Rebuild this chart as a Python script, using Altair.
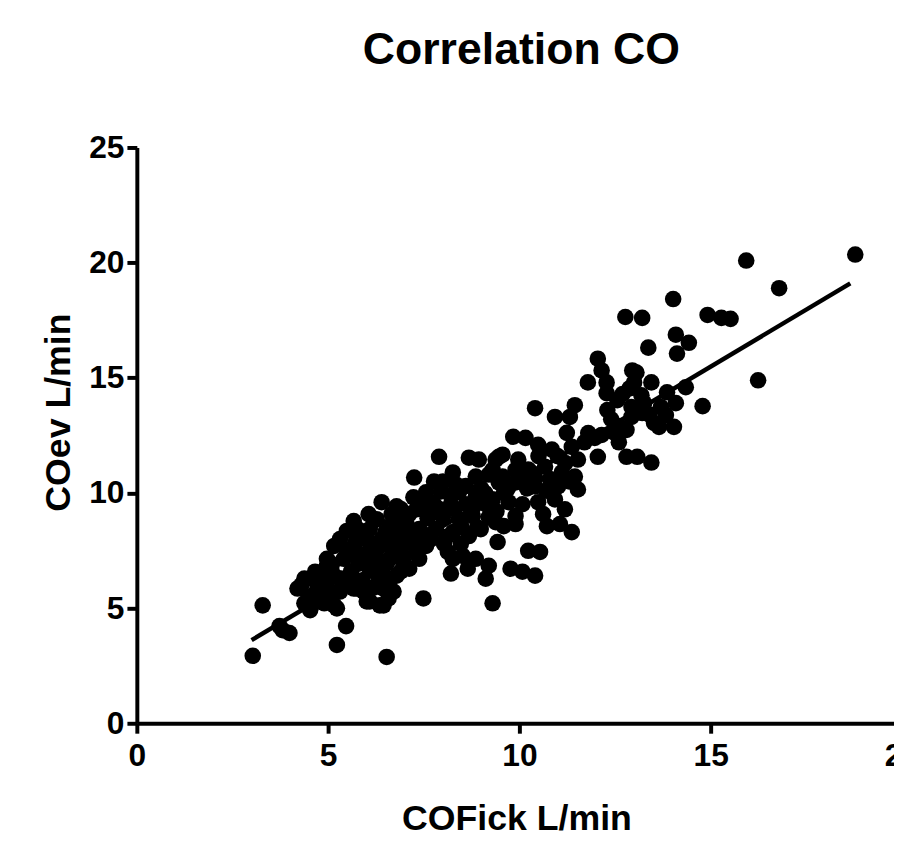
import altair as alt
import pandas as pd

# COFick (x) and COev (y) values, L/min
co_fick = [
    3.03, 3.29, 3.73, 3.99, 3.81, 4.38, 4.38, 4.66, 5.10, 4.97, 4.90, 5.23, 5.67, 5.93, 6.09, 6.45,
    6.09, 6.45, 5.41, 5.23, 5.47, 6.53, 6.40, 6.06, 5.67, 5.49, 5.31, 5.16, 4.97, 5.83, 6.09, 5.62,
    5.80, 6.01, 6.22, 5.49, 5.75, 6.27, 6.53, 6.66, 6.40, 4.84, 4.66, 4.20, 4.53, 4.97, 5.16, 5.31,
    5.67, 6.01, 6.35, 6.58,
    7.90, 8.68, 8.94, 9.46, 7.25, 7.77, 8.26, 8.34, 8.86, 9.20, 9.46, 10.08, 10.41, 6.79, 7.23, 7.56,
    7.95, 8.42, 8.86, 9.30, 9.72, 10.08, 10.49, 7.12, 7.56, 8.00, 8.42, 8.78, 9.20, 9.38, 9.59, 6.61,
    6.92, 7.38, 7.82, 8.26, 8.68, 9.43, 6.45, 6.79, 7.12, 7.56, 6.61, 6.97, 7.38, 8.13, 8.26, 8.52,
    8.86, 9.20, 8.21, 8.65, 9.12, 9.77, 10.08, 10.41, 10.23, 10.54, 6.79, 7.12, 6.45, 6.71, 7.49, 9.30,
    10.72,
    12.77, 13.21, 12.05, 12.15, 11.79, 12.28, 12.95, 13.45, 12.88, 13.19, 13.86, 14.35, 12.28, 12.56,
    12.93, 13.26, 13.70, 14.09, 10.41, 11.45, 11.32, 10.93, 12.93, 13.21, 13.65, 14.04, 12.80, 12.49,
    12.15, 11.97, 9.84, 10.16, 10.49, 9.56, 9.97, 10.85, 11.24, 11.37, 11.53, 12.05, 12.80, 13.08,
    13.45, 10.23, 10.67, 11.11, 11.45, 9.90, 10.41, 11.01, 11.53, 9.38, 9.56,
    15.93, 18.78, 16.79, 14.02, 14.92, 15.28, 15.52, 14.09, 14.43, 14.12, 13.37, 16.24, 13.06, 14.79,
    13.83, 13.08, 13.52,
    10.93, 11.19, 11.37, 11.06, 10.62,
    7.05, 7.31, 7.69, 8.03, 8.47, 8.99, 9.12, 8.60, 8.21, 7.77, 7.31, 6.66, 6.27, 6.66, 6.92, 9.90,
    4.50, 4.70, 5.00, 5.30, 5.60, 5.90, 6.20, 6.60, 6.90, 7.30, 6.30, 6.00, 5.70, 6.80, 7.10, 7.60,
    7.90, 8.20, 8.60, 9.00, 9.70, 10.30, 10.80, 11.20, 11.70, 9.40, 9.90, 8.90, 8.10, 7.40, 6.50,
    5.90, 11.80, 12.40, 12.60,
    4.30, 4.60, 4.80, 5.10, 5.40, 5.50, 5.80, 6.20, 6.10, 6.40, 6.70, 6.90, 7.00,
    7.50, 7.70, 8.00, 8.30, 8.50, 8.80, 9.10, 9.30, 9.60, 9.90, 10.20, 10.50, 10.70, 11.00, 11.30,
    12.30, 12.70, 13.00, 13.40, 12.60,
]
co_ev = [
    2.93, 5.12, 4.22, 3.92, 4.04, 6.28, 5.21, 6.58, 6.58, 6.84, 5.21, 4.99, 6.28, 5.72, 5.29, 5.12,
    6.71, 6.41, 7.14, 3.40, 4.22, 2.88, 9.60, 9.08, 8.78, 8.35, 8.00, 7.70, 7.14, 8.13, 8.43, 7.36,
    6.93, 7.36, 7.14, 6.07, 5.85, 6.50, 6.93, 7.57, 8.00, 6.07, 5.64, 5.85, 4.91, 5.98, 5.12, 5.72,
    5.85, 5.29, 5.12, 5.42,
    11.57, 11.53, 11.45, 11.57, 10.67, 10.50, 10.89, 10.37, 10.71, 10.80, 10.46, 10.58, 10.67, 9.42,
    9.81, 10.03, 10.07, 10.03, 9.85, 9.72, 9.60, 9.51, 9.60, 9.08, 9.17, 8.95, 8.86, 8.99, 8.95, 8.73,
    8.56, 8.56, 8.30, 8.43, 8.43, 8.30, 8.13, 7.87, 7.87, 7.70, 7.87, 7.70, 7.14, 7.01, 7.14, 7.44,
    7.14, 7.27, 7.14, 6.84, 6.50, 6.71, 6.28, 6.71, 6.58, 6.41, 7.49, 7.44, 6.41, 6.71, 5.85, 5.72,
    5.42, 5.21, 8.56,
    17.64, 17.60, 15.83, 15.32, 14.80, 14.80, 15.32, 14.80, 14.54, 14.24, 14.37, 14.59, 14.33, 14.03,
    13.73, 13.90, 13.73, 13.90, 13.68, 13.81, 13.30, 13.30, 13.30, 13.47, 12.87, 12.87, 12.74, 12.61,
    12.52, 12.39, 12.44, 12.39, 12.09, 11.66, 11.45, 11.88, 12.61, 12.00, 11.45, 11.57, 11.57, 11.57,
    11.32, 11.02, 11.14, 10.89, 10.71, 10.46, 10.28, 10.28, 10.15, 11.45, 10.71,
    20.09, 20.35, 18.89, 18.42, 17.73, 17.60, 17.56, 16.87, 16.52, 16.05, 16.31, 14.89, 15.23, 13.77,
    13.38, 13.60, 13.04,
    9.72, 9.29, 8.30, 8.65, 9.08,
    8.65, 7.79, 8.00, 7.79, 7.79, 8.43, 9.51, 9.51, 9.51, 9.51, 9.29, 9.08, 8.86, 8.00, 7.36, 8.65,
    5.50, 6.10, 5.60, 6.30, 6.60, 6.20, 5.90, 6.20, 6.60, 7.40, 7.60, 8.00, 7.80, 8.90, 8.20, 8.90,
    9.30, 9.90, 10.30, 10.20, 10.20, 10.90, 10.60, 11.30, 12.20, 9.20, 9.00, 8.50, 8.10, 9.60, 8.30,
    7.30, 12.60, 13.20, 12.90,
    6.00, 5.20, 6.40, 6.90, 6.00, 7.50, 8.40, 8.80, 7.80, 7.00, 7.90, 9.30, 8.00,
    8.20, 9.60, 10.50, 9.30, 8.50, 9.40, 10.00, 11.00, 10.00, 11.00, 10.20, 11.60, 10.10, 11.60, 10.50,
    13.60, 14.30, 14.80, 13.40, 12.20,
]

# Regression line endpoints
fit_x = [3.0, 18.65]
fit_y = [3.61, 19.1]

x_ticks = [0, 5, 10, 15, 20]
y_ticks = [0, 5, 10, 15, 20, 25]
chart_title = "Correlation CO"

pts = pd.DataFrame({"COFick": co_fick, "COev": co_ev})
fit = pd.DataFrame({"COFick": fit_x, "COev": fit_y})
ttl = pd.DataFrame({"t": [chart_title]})

FONT = "Liberation Sans"

x_enc = alt.X(
    "COFick:Q",
    scale=alt.Scale(domain=[0, 20], nice=False, zero=True),
    axis=alt.Axis(
        values=x_ticks, title="COFick L/min", grid=False,
        domainColor="black", domainWidth=4, tickColor="black", tickWidth=4, tickSize=10,
        labelFont=FONT, labelFontSize=32, labelFontWeight="bold", labelColor="black",
        labelPadding=8, labelFlush=False, labelOverlap=False,
        titleFont=FONT, titleFontSize=36, titleFontWeight="bold", titleColor="black",
        titleX=383, titleY=107, titleBaseline="alphabetic", titleAlign="center",
    ),
)
y_enc = alt.Y(
    "COev:Q",
    scale=alt.Scale(domain=[0, 25], nice=False, zero=True),
    axis=alt.Axis(
        values=y_ticks, title="COev L/min", grid=False,
        domainColor="black", domainWidth=4, tickColor="black", tickWidth=4, tickSize=10,
        labelFont=FONT, labelFontSize=32, labelFontWeight="bold", labelColor="black",
        labelPadding=3, labelFlush=False, labelOverlap=False,
        titleFont=FONT, titleFontSize=36, titleFontWeight="bold", titleColor="black",
        titleAngle=270, titleX=-68, titleY=267, titleBaseline="alphabetic", titleAlign="center",
    ),
)

points = alt.Chart(pts).mark_circle(size=280, color="black", opacity=1).encode(x=x_enc, y=y_enc)
line = alt.Chart(fit).mark_line(color="black", strokeWidth=4.5).encode(x="COFick:Q", y="COev:Q")
title_text = alt.Chart(ttl).mark_text(
    font=FONT, fontSize=45, fontWeight="bold", color="black",
    align="center", baseline="alphabetic",
).encode(text="t:N", x=alt.value(388), y=alt.value(-84))

chart = (
    alt.layer(points, line, title_text)
    .properties(
        width=772,
        height=581,
        autosize=alt.AutoSizeParams(type="none"),
        padding={"left": 130, "top": 137, "right": -8, "bottom": 110},
        background="white",
    )
    .configure_view(stroke="transparent", strokeWidth=0)
)

chart.save("out.html", embed_options={"renderer": "svg", "actions": False})
